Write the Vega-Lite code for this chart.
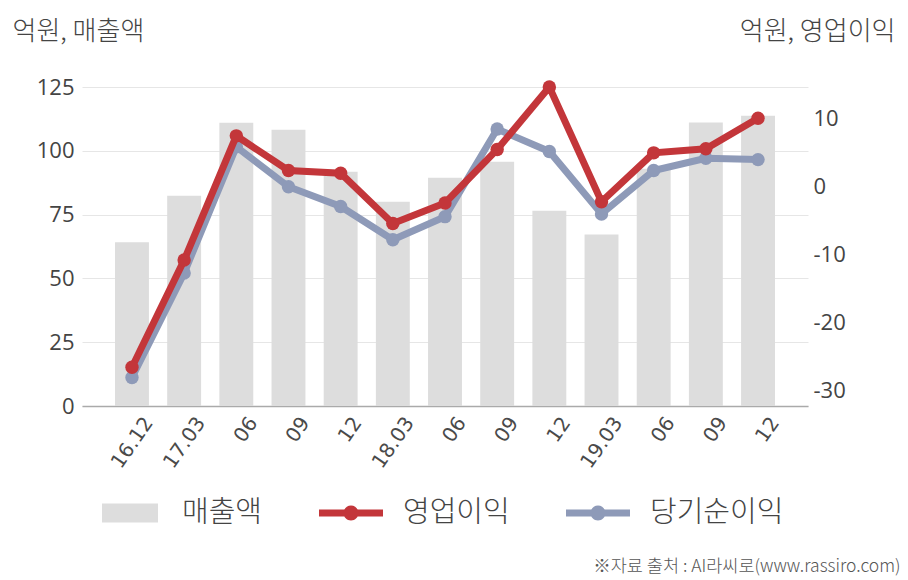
{
  "$schema": "https://vega.github.io/schema/vega-lite/v6.json",
  "width": 726,
  "height": 319,
  "autosize": {"type": "none"},
  "padding": {"left": 82, "top": 87, "right": 100, "bottom": 174},
  "background": "white",
  "config": {"view": {"stroke": null}, "font": "Noto Sans CJK KR"},
  "data": {
    "values": [
      {"q": "16.12", "series": "매출액", "value": 64.2},
      {"q": "17.03", "series": "매출액", "value": 82.4},
      {"q": "17.06", "series": "매출액", "value": 111.0},
      {"q": "17.09", "series": "매출액", "value": 108.2},
      {"q": "17.12", "series": "매출액", "value": 91.8},
      {"q": "18.03", "series": "매출액", "value": 80.0},
      {"q": "18.06", "series": "매출액", "value": 89.4},
      {"q": "18.09", "series": "매출액", "value": 95.7},
      {"q": "18.12", "series": "매출액", "value": 76.5},
      {"q": "19.03", "series": "매출액", "value": 67.2},
      {"q": "19.06", "series": "매출액", "value": 93.0},
      {"q": "19.09", "series": "매출액", "value": 111.1},
      {"q": "19.12", "series": "매출액", "value": 113.7},
      {"q": "16.12", "series": "영업이익", "value": -26.6},
      {"q": "17.03", "series": "영업이익", "value": -10.8},
      {"q": "17.06", "series": "영업이익", "value": 7.5},
      {"q": "17.09", "series": "영업이익", "value": 2.4},
      {"q": "17.12", "series": "영업이익", "value": 2.0},
      {"q": "18.03", "series": "영업이익", "value": -5.4},
      {"q": "18.06", "series": "영업이익", "value": -2.4},
      {"q": "18.09", "series": "영업이익", "value": 5.5},
      {"q": "18.12", "series": "영업이익", "value": 14.7},
      {"q": "19.03", "series": "영업이익", "value": -2.2},
      {"q": "19.06", "series": "영업이익", "value": 5.0},
      {"q": "19.09", "series": "영업이익", "value": 5.6},
      {"q": "19.12", "series": "영업이익", "value": 10.1},
      {"q": "16.12", "series": "당기순이익", "value": -28.1},
      {"q": "17.03", "series": "당기순이익", "value": -12.7},
      {"q": "17.06", "series": "당기순이익", "value": 5.9},
      {"q": "17.09", "series": "당기순이익", "value": 0.0},
      {"q": "17.12", "series": "당기순이익", "value": -2.9},
      {"q": "18.03", "series": "당기순이익", "value": -7.8},
      {"q": "18.06", "series": "당기순이익", "value": -4.4},
      {"q": "18.09", "series": "당기순이익", "value": 8.5},
      {"q": "18.12", "series": "당기순이익", "value": 5.2},
      {"q": "19.03", "series": "당기순이익", "value": -4.0},
      {"q": "19.06", "series": "당기순이익", "value": 2.4},
      {"q": "19.09", "series": "당기순이익", "value": 4.2},
      {"q": "19.12", "series": "당기순이익", "value": 4.0}
    ]
  },
  "encoding": {
    "x": {
      "field": "q",
      "type": "ordinal",
      "sort": null,
      "scale": {"paddingInner": 0.35, "paddingOuter": 0.633},
      "axis": {
        "title": "※자료 출처 : AI라씨로(www.rassiro.com)",
        "titleX": 818,
        "titleY": 160,
        "titleAlign": "right",
        "titleBaseline": "middle",
        "titleFontSize": 17.5,
        "titleFontWeight": 300,
        "titleColor": "#555555",
        "titleFont": "Noto Sans CJK KR",
        "labelExpr": "slice(datum.value,3)=='03' || datum.value=='16.12' ? datum.value : slice(datum.value,3)",
        "labelAngle": -55,
        "labelAlign": "right",
        "labelBaseline": "middle",
        "labelFont": "DejaVu Sans",
        "labelFontSize": 20,
        "labelColor": "#4a4a4a",
        "labelPadding": 13,
        "labelOffset": 17,
        "ticks": false,
        "grid": false,
        "domainColor": "#aaaaaa",
        "domainWidth": 1.5
      }
    },
    "color": {
      "field": "series",
      "type": "nominal",
      "scale": {
        "domain": ["매출액", "영업이익", "당기순이익"],
        "range": ["#dddddd", "#c3363a", "#8e9ab8"]
      },
      "legend": {
        "orient": "none",
        "legendX": 16,
        "legendY": 394,
        "direction": "horizontal",
        "columns": 3,
        "title": null,
        "padding": 0,
        "symbolSize": 4096,
        "symbolStrokeWidth": 0,
        "labelFontSize": 29,
        "labelFontWeight": 300,
        "labelFont": "Noto Sans CJK KR",
        "labelColor": "#444444",
        "labelOffset": 20,
        "labelLimit": 300,
        "columnPadding": 56,
        "encode": {
          "symbols": {
            "update": {
              "shape": {"signal": "datum.value === '매출액' ? 'M-0.875,-0.3H0.875V0.3H-0.875Z' : 'M-1,-0.11H1V0.11H-1Z M-0.234,0A0.234,0.234 0 1 1 0.234,0A0.234,0.234 0 1 1 -0.234,0Z'"},
              "fill": {"signal": "datum.value === '매출액' ? '#dddddd' : datum.value === '영업이익' ? '#c3363a' : '#8e9ab8'"},
              "fillOpacity": {"value": 1},
              "opacity": {"value": 1},
              "strokeWidth": {"value": 0}
            }
          }
        }
      }
    }
  },
  "layer": [
    {
      "transform": [{"filter": "datum.series === '매출액'"}],
      "mark": {"type": "bar"},
      "encoding": {
        "y": {
          "field": "value",
          "type": "quantitative",
          "scale": {"domain": [0, 125], "nice": false},
          "axis": {
            "title": "억원, 매출액",
            "titleX": -70,
            "titleY": -56,
            "titleAngle": 0,
            "titleAlign": "left",
            "titleBaseline": "middle",
            "titleFontSize": 26,
            "titleFontWeight": 300,
            "titleColor": "#444444",
            "titleFont": "Noto Sans CJK KR",
            "values": [0, 25, 50, 75, 100, 125],
            "labelFont": "Open Sans",
            "labelFontSize": 22,
            "labelColor": "#444444",
            "labelPadding": 8,
            "ticks": false,
            "domain": false,
            "grid": true,
            "gridColor": "#e6e6e6",
            "gridWidth": 1
          }
        }
      }
    },
    {
      "layer": [
        {
          "transform": [{"filter": "datum.series === '당기순이익'"}],
          "mark": {"type": "line", "strokeWidth": 7, "point": {"filled": true, "size": 180}},
          "encoding": {
            "y": {
              "field": "value",
              "type": "quantitative",
              "scale": {"domain": [-32.3, 14.7], "nice": false, "zero": false},
              "axis": {
                "orient": "right",
                "title": "억원, 영업이익",
                "titleX": 87,
                "titleY": -56,
                "titleAngle": 0,
                "titleAlign": "right",
                "titleBaseline": "middle",
                "titleFontSize": 26,
                "titleFontWeight": 300,
                "titleColor": "#444444",
                "titleFont": "Noto Sans CJK KR",
                "values": [10, 0, -10, -20, -30],
                "labelExpr": "'' + datum.value",
                "labelFont": "Open Sans",
                "labelFontSize": 22,
                "labelColor": "#444444",
                "labelPadding": 5,
                "ticks": false,
                "domain": false,
                "grid": false
              }
            }
          }
        },
        {
          "transform": [{"filter": "datum.series === '영업이익'"}],
          "mark": {"type": "line", "strokeWidth": 7, "point": {"filled": true, "size": 180}},
          "encoding": {
            "y": {
              "field": "value",
              "type": "quantitative",
              "scale": {"domain": [-32.3, 14.7], "nice": false, "zero": false},
              "axis": {
                "orient": "right",
                "title": "억원, 영업이익",
                "titleX": 87,
                "titleY": -56,
                "titleAngle": 0,
                "titleAlign": "right",
                "titleBaseline": "middle",
                "titleFontSize": 26,
                "titleFontWeight": 300,
                "titleColor": "#444444",
                "titleFont": "Noto Sans CJK KR",
                "values": [10, 0, -10, -20, -30],
                "labelExpr": "'' + datum.value",
                "labelFont": "Open Sans",
                "labelFontSize": 22,
                "labelColor": "#444444",
                "labelPadding": 5,
                "ticks": false,
                "domain": false,
                "grid": false
              }
            }
          }
        }
      ]
    }
  ],
  "resolve": {"scale": {"y": "independent"}}
}
